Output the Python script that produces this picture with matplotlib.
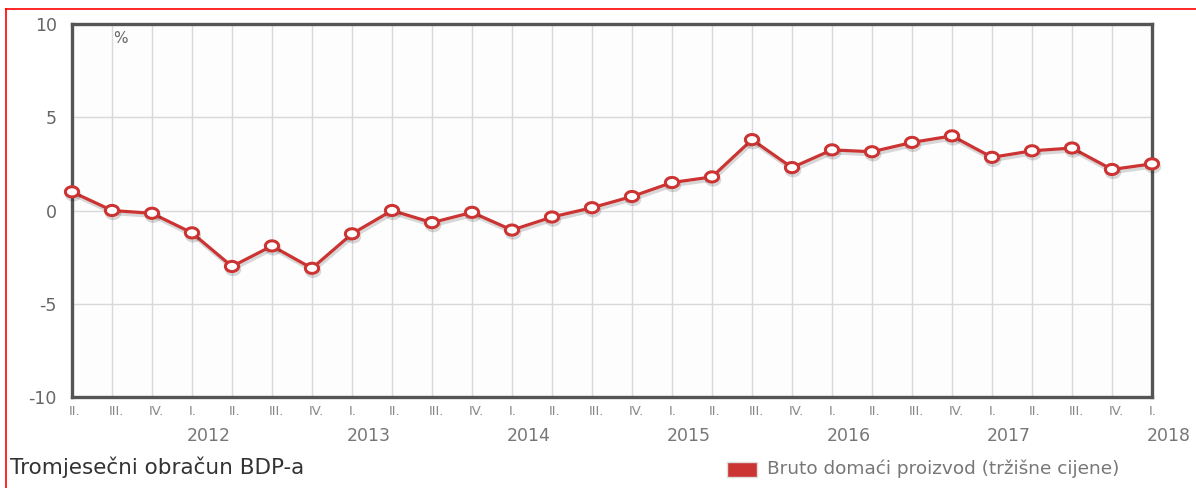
import numpy as np
import matplotlib.pyplot as plt
import matplotlib.patheffects as pe
import matplotlib.transforms as mtrans
from matplotlib.patches import Rectangle
from matplotlib.lines import Line2D
from matplotlib.path import Path

plt.rcParams['font.family'] = ['DejaVu Sans']

# quarterly GDP growth, II. 2011 .. I. 2018
quarters = ["II.", "III.", "IV.",
            "I.", "II.", "III.", "IV.",
            "I.", "II.", "III.", "IV.",
            "I.", "II.", "III.", "IV.",
            "I.", "II.", "III.", "IV.",
            "I.", "II.", "III.", "IV.",
            "I.", "II.", "III.", "IV.",
            "I."]
years = ["2012", "2013", "2014", "2015", "2016", "2017", "2018"]
year_pos = [3, 7, 11, 15, 19, 23, 27]
bdp = [1.0, 0.0, -0.15, -1.2, -3.0, -1.9, -3.1, -1.25, 0.0, -0.65, -0.1,
       -1.05, -0.35, 0.15, 0.75, 1.5, 1.8, 3.8, 2.3, 3.25, 3.15, 3.65, 4.0,
       2.85, 3.2, 3.35, 2.2, 2.5]

W, H = 1196, 488
fig = plt.figure(figsize=(W / 100, H / 100), dpi=100)
fig.patch.set_facecolor('white')

# axes placed in pixel coords
l, r, t, b = 72, 1152, 24, 397
ax = fig.add_axes([l / W, 1 - b / H, (r - l) / W, (b - t) / H])
ax.set_facecolor('#fdfdfd')

# slightly wide oval marker (the source image is stretched sideways)
th = np.linspace(0, 2 * np.pi, 60)
oval = Path(np.column_stack([1.3 * np.cos(th), np.sin(th)]), closed=True)

x = np.arange(len(bdp))
red = '#cc3333'
ax.plot(x, bdp, color=red, lw=2.3, marker=oval, ms=9.5, mfc='white',
        mec=red, mew=2.2, zorder=5, clip_on=False,
        path_effects=[pe.SimpleLineShadow(offset=(0.8, -2.2), shadow_color='black', alpha=0.15),
                      pe.Normal()])

ax.set_xlim(0, len(bdp) - 1)
ax.set_ylim(-10, 10)
ax.set_yticks([-10, -5, 0, 5, 10])
ax.set_yticklabels(['-10', '-5', '0', '5', '10'])
ax.set_xticks(x)
ax.set_xticklabels(quarters, ha='left')
ax.tick_params(axis='x', length=0, pad=6, labelsize=9.5, labelcolor='#888888')
ax.tick_params(axis='y', length=0, pad=11, labelsize=12.5, labelcolor='#666666')
# shift quarter labels slightly left
off = mtrans.ScaledTranslation(-2 / 72, 0, fig.dpi_scale_trans)
for lab in ax.get_xticklabels():
    lab.set_transform(lab.get_transform() + off)

ax.grid(True, color='#d9d9d9', lw=1)
ax.set_axisbelow(True)
for s in ax.spines.values():
    s.set_color('#555555')
    s.set_linewidth(2.4)

tr = mtrans.blended_transform_factory(ax.transData, ax.transAxes)
for yr, p in zip(years, year_pos):
    ax.text(p - 0.12, -0.08, yr, transform=tr, ha='left', va='top',
            fontsize=12.5, color='#777777')

ax.text(1.2, 0.98, '%', transform=tr, ha='center', va='top',
        fontsize=11, color='#666666')

# title and legend below
fig.text(10 / W, 1 - 467 / H, 'Tromjesečni obračun BDP-a', ha='left',
         va='center', fontsize=15.5, color='#333333')
fig.patches.append(Rectangle((727 / W, 1 - 477 / H), 30 / W, 15 / H,
                             transform=fig.transFigure, facecolor=red,
                             edgecolor='#dddddd', lw=1))
fig.text(767 / W, 1 - 469 / H, 'Bruto domaći proizvod (tržišne cijene)',
         ha='left', va='center', fontsize=13.3, color='#777777')

# red frame around the widget
fig.lines.append(Line2D([6 / W, 6 / W], [0, 1 - 9 / H], transform=fig.transFigure,
                        color='red', lw=1.2))
fig.lines.append(Line2D([6 / W, 1], [1 - 9 / H, 1 - 9 / H], transform=fig.transFigure,
                        color='red', lw=1.2))

fig.savefig('out.png', dpi=100)
